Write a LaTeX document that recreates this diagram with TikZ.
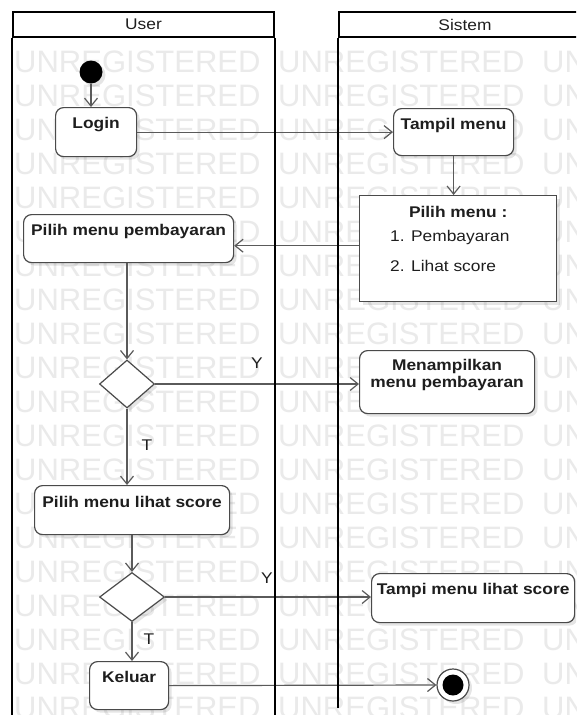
\documentclass[tikz,border=0pt]{standalone}
\usepackage{fontspec}
\setmainfont[FakeStretch=1.12]{Liberation Sans}
\newfontfamily\wmfont{Liberation Sans}
\usetikzlibrary{arrows.meta,shapes.geometric,shadows}

\definecolor{wmgray}{HTML}{EAEAEA}
\definecolor{boxline}{HTML}{4A4A4A}
\definecolor{flow}{HTML}{5A5A5A}
\definecolor{ink}{HTML}{1E1E1E}

\tikzset{
  boxshadow/.style={drop shadow={shadow xshift=3pt, shadow yshift=-3pt, opacity=0.10, fill=black}},
  act/.style={draw=boxline, line width=1.2pt, fill=white, rounded corners=8pt,
    inner sep=0pt, anchor=north west, boxshadow},
  menubox/.style={draw=boxline, line width=1.4pt, fill=white, inner sep=0pt,
    anchor=north west, boxshadow},
  decision/.style={diamond, draw=boxline, line width=1.2pt, fill=white, inner sep=0pt, boxshadow},
  acttext/.style={font=\fontsize{15.5}{18}\selectfont\bfseries, text=ink, inner sep=0pt, align=center},
  plaintext/.style={font=\fontsize{15.5}{18}\selectfont, text=ink, inner sep=0pt},
  flowline/.style={draw=flow, line width=1.2pt,
    -{Straight Barb[length=8pt,width=13pt,line width=1.2pt]}},
  lane/.style={draw=black, line width=2pt},
  laneheader/.style={draw=black, line width=2pt, fill=white, inner sep=0pt,
    anchor=north west, minimum height=25pt, font=\fontsize{15.5}{18}\selectfont, text=ink},
  wm/.style={font=\wmfont\fontsize{31}{31}\selectfont, text=wmgray, inner sep=0pt, anchor=west},
}

\begin{document}
\begin{tikzpicture}[x=1pt, y=-1pt]
\useasboundingbox (0,0) rectangle (576,715);
\clip (0,0) rectangle (576,715);
\fill[white] (0,0) rectangle (576,715);

% watermark tiling
\foreach \r in {0,...,19}{
  \foreach \c in {0,1,2}{
    \node[wm] (wm-\r-\c) at (14+264*\c, 62+34*\r) {UNREGISTERED};
  }
}

% swimlane headers
\node[laneheader, minimum width=261pt] (userhead) at (12,11) {User};
\node[laneheader, minimum width=252pt] (sistemhead) at (338,11) {Sistem};

% activity nodes
\node[circle, fill=black, minimum size=23pt, inner sep=0pt, boxshadow] (start) at (91,72) {};

\node[act, minimum width=81pt, minimum height=49pt] (login) at (55,107) {};
\node[acttext, anchor=north] (loginlbl) at ([yshift=-10.5pt]login.north) {Login};

\node[act, minimum width=120pt, minimum height=47pt] (tampil) at (393,108) {};
\node[acttext, anchor=north] (tampillbl) at ([yshift=-10pt]tampil.north) {Tampil menu};

\node[menubox, minimum width=197pt, minimum height=106pt] (pilih) at (359,195) {};
\node[acttext, anchor=north] (pilihlbl) at ([yshift=-11pt]pilih.north) {Pilih menu :};
\node[plaintext, anchor=west] (pilihone) at ([xshift=31pt, yshift=-42pt]pilih.north west) {1. Pembayaran};
\node[plaintext, anchor=west] (pilihtwo) at ([xshift=31pt, yshift=-71pt]pilih.north west) {2. Lihat score};

\node[act, minimum width=210pt, minimum height=48pt] (pemb) at (23,214) {};
\node[acttext, anchor=north] (pemblbl) at ([yshift=-10.5pt]pemb.north) {Pilih menu pembayaran};

\node[decision, minimum width=55pt, minimum height=48pt] (dec1) at (127,384) {};

\node[act, minimum width=175pt, minimum height=63pt] (tampilkan) at (359,350) {};
\node[acttext, anchor=north] (tampilkanlbl) at ([yshift=-9.5pt]tampilkan.north) {Menampilkan\\[-1pt]menu pembayaran};

\node[act, minimum width=195pt, minimum height=49pt] (lihat) at (34,485) {};
\node[acttext, anchor=north] (lihatlbl) at ([yshift=-11pt]lihat.north) {Pilih menu lihat score};

\node[decision, minimum width=65pt, minimum height=49pt] (dec2) at (132,597) {};

\node[act, minimum width=203pt, minimum height=49pt] (tampi) at (371,573) {};
\node[acttext, anchor=north] (tampilbl) at ([yshift=-10pt]tampi.north) {Tampi menu lihat score};

\node[act, minimum width=79pt, minimum height=48pt] (keluar) at (89,661) {};
\node[acttext, anchor=north] (keluarlbl) at ([yshift=-10.5pt]keluar.north) {Keluar};

\node[circle, draw=boxline, line width=1.2pt, fill=white, minimum size=32pt, inner sep=0pt, boxshadow] (final) at (453,685) {};
\node[circle, fill=black, minimum size=21pt, inner sep=0pt] (finaldot) at (final) {};

% control flow
\draw[flowline] (start) -- (start |- login.north);
\draw[flowline] (login.east) -- (tampil.west);
\draw[flowline] (tampil.south) -- (tampil.south |- pilih.north);
\draw[flowline] ([yshift=3pt]pilih.west) -- ([yshift=3pt]pilih.west -| pemb.east);
\draw[flowline] (pemb.south -| dec1.north) -- (dec1.north);
\draw[flowline] (dec1.east) -- (dec1.east -| tampilkan.west);
\node[plaintext] (guardy1) at (257,363) {Y};
\draw[flowline] (dec1.south) -- (dec1.south |- lihat.north);
\node[plaintext] (guardt1) at (147,445) {T};
\draw[flowline] (lihat.south -| dec2.north) -- (dec2.north);
\draw[flowline] (dec2.east) -- (dec2.east -| tampi.west);
\node[plaintext] (guardy2) at (267,578) {Y};
\draw[flowline] (dec2.south) -- (dec2.south |- keluar.north);
\node[plaintext] (guardt2) at (149,639) {T};
\draw[flowline] (keluar.east) -- (final.west);

% swimlane borders
\draw[lane] (userhead.south west) -- ++(0,690);
\draw[lane] (userhead.south east) -- ++(0,690);
\draw[lane] (sistemhead.south west) -- (sistemhead.south west |- 0,708);
\end{tikzpicture}
\end{document}
